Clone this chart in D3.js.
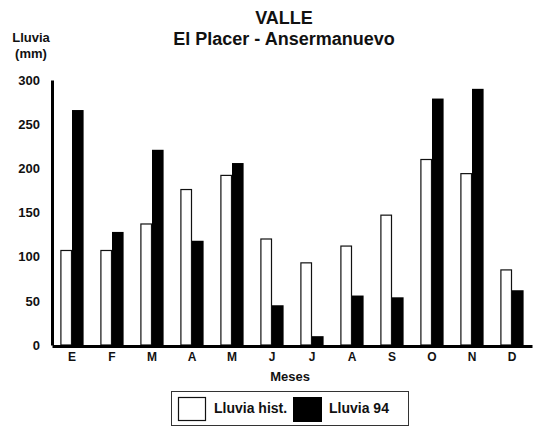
<!DOCTYPE html>
<html>
<head>
<meta charset="utf-8">
<script src="https://cdn.jsdelivr.net/npm/d3@7"></script>
<style>
  body { margin: 0; background: #fff; }
  svg { font-family: Arial, "Liberation Sans", sans-serif; font-weight: bold; }
</style>
</head>
<body>
<div id="chart"></div>
<script>
// month labels and rainfall (mm)
const meses = ["E", "F", "M", "A", "M2", "J", "J2", "A2", "S", "O", "N", "D"];
const mesLabels = ["E", "F", "M", "A", "M", "J", "J", "A", "S", "O", "N", "D"];
const lluviaHist = [107, 107, 137, 176, 192, 120, 93, 112, 147, 210, 194, 85];
const lluvia94 = [266, 128, 221, 118, 206, 45, 10, 56, 54, 279, 290, 62];
const yTicks = [0, 50, 100, 150, 200, 250, 300];

const width = 539, height = 427;

const svg = d3.select("#chart")
  .append("svg")
  .attr("width", width)
  .attr("height", height);

const x = d3.scaleBand()
  .domain(meses)
  .range([52, 532])
  .paddingInner(0.42)
  .paddingOuter(0.21);

const xSub = d3.scaleBand()
  .domain(["hist", "94"])
  .range([0, x.bandwidth()]);

const y = d3.scaleLinear()
  .domain([0, 300])
  .range([345, 80]);

// titles
svg.append("text")
  .attr("x", 284).attr("y", 24)
  .attr("text-anchor", "middle")
  .style("font-size", "18px")
  .attr("fill", "#111")
  .text("VALLE");

svg.append("text")
  .attr("x", 284).attr("y", 45)
  .attr("text-anchor", "middle")
  .style("font-size", "18px")
  .attr("fill", "#111")
  .text("El Placer - Ansermanuevo");

svg.append("text")
  .attr("x", 31).attr("y", 42)
  .attr("text-anchor", "middle")
  .style("font-size", "13px")
  .attr("fill", "#111")
  .text("Lluvia");

svg.append("text")
  .attr("x", 31).attr("y", 58)
  .attr("text-anchor", "middle")
  .style("font-size", "13px")
  .attr("fill", "#111")
  .text("(mm)");

// bars
const groups = svg.append("g")
  .selectAll("g.mes")
  .data(meses)
  .join("g")
  .attr("class", "mes")
  .attr("transform", d => `translate(${x(d)},0)`);

groups.append("rect")
  .attr("x", xSub("hist") + 0.5)
  .attr("y", (d, i) => y(lluviaHist[i]))
  .attr("width", xSub.bandwidth() - 1)
  .attr("height", (d, i) => y(0) - y(lluviaHist[i]))
  .attr("fill", "#fff")
  .attr("stroke", "#111")
  .attr("stroke-width", 1.2);

groups.append("rect")
  .attr("x", xSub("94"))
  .attr("y", (d, i) => y(lluvia94[i]))
  .attr("width", xSub.bandwidth())
  .attr("height", (d, i) => y(0) - y(lluvia94[i]))
  .attr("fill", "#000");

// y axis
const yAxis = svg.append("g")
  .attr("transform", "translate(52,0)")
  .call(d3.axisLeft(y).tickValues(yTicks).tickSize(0).tickPadding(12));
yAxis.select(".domain").attr("stroke", "#000").attr("stroke-width", 3);
yAxis.selectAll("text")
  .style("font-size", "13px")
  .style("font-family", "Arial, 'Liberation Sans', sans-serif")
  .style("font-weight", "bold")
  .attr("fill", "#111");

// x axis
const xAxis = svg.append("g")
  .attr("transform", "translate(0,346)")
  .call(d3.axisBottom(x).tickSize(0).tickPadding(6)
    .tickFormat((d, i) => mesLabels[i]));
xAxis.select(".domain").attr("stroke", "#000").attr("stroke-width", 3);
xAxis.selectAll("text")
  .style("font-size", "12px")
  .style("font-family", "Arial, 'Liberation Sans', sans-serif")
  .style("font-weight", "bold")
  .attr("fill", "#111");

svg.append("text")
  .attr("x", 290).attr("y", 381)
  .attr("text-anchor", "middle")
  .style("font-size", "13px")
  .attr("fill", "#111")
  .text("Meses");

// legend
const legend = svg.append("g");
legend.append("rect")
  .attr("x", 171.5).attr("y", 391.5)
  .attr("width", 237).attr("height", 34)
  .attr("fill", "#fff")
  .attr("stroke", "#333")
  .attr("stroke-width", 1);

legend.append("rect")
  .attr("x", 178.5).attr("y", 397.5)
  .attr("width", 27).attr("height", 23)
  .attr("fill", "#fff")
  .attr("stroke", "#111")
  .attr("stroke-width", 1.2);

legend.append("text")
  .attr("x", 214).attr("y", 413)
  .style("font-size", "14px")
  .attr("fill", "#111")
  .text("Lluvia hist.");

legend.append("rect")
  .attr("x", 293).attr("y", 397)
  .attr("width", 29).attr("height", 25)
  .attr("fill", "#000");

legend.append("text")
  .attr("x", 329).attr("y", 413)
  .style("font-size", "14px")
  .attr("fill", "#111")
  .text("Lluvia 94");
</script>
</body>
</html>
